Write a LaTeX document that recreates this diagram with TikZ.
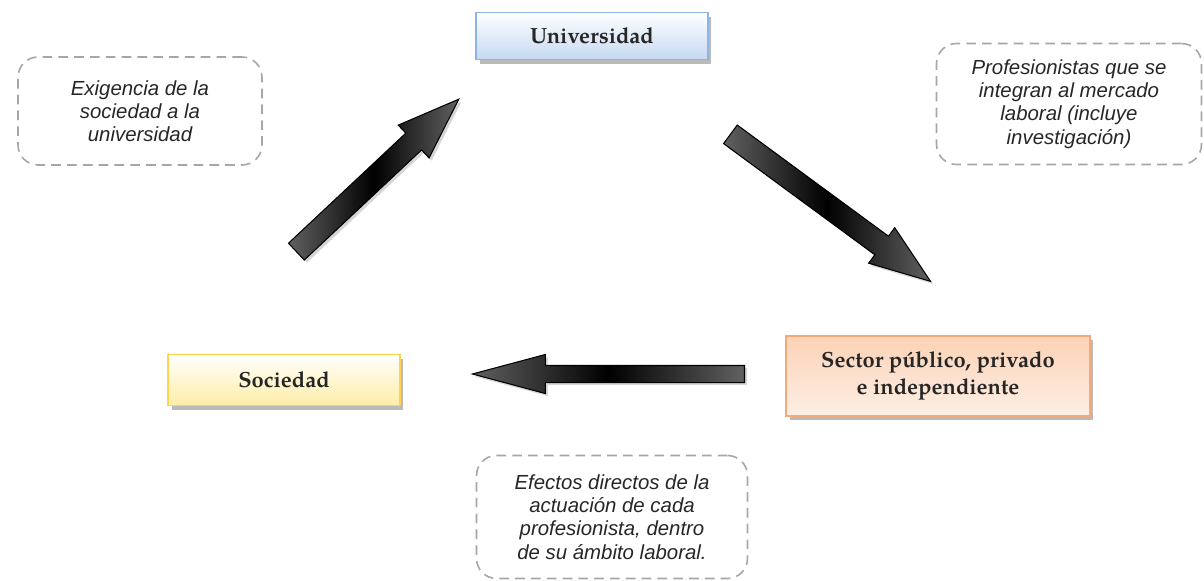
\documentclass[tikz,border=0pt]{standalone}
\usepackage{fontspec}
\setmainfont{Liberation Sans}
\newfontfamily\boxfont{TeX Gyre Pagella}
\usetikzlibrary{shapes.arrows,shadows,calc}

\definecolor{uniline}{HTML}{8EB4E3}
\definecolor{unifill}{HTML}{C5D9F1}
\definecolor{socline}{HTML}{FFD34D}
\definecolor{socfill}{HTML}{FFEDA6}
\definecolor{secline}{HTML}{F4A97A}
\definecolor{secfill}{HTML}{FBD2B6}
\definecolor{noteline}{HTML}{A6A6A6}

\tikzset{
  actor/.style={draw, line width=1pt, inner sep=2pt, align=center, text=black!85,
    font=\boxfont\bfseries\fontsize{12.5}{15.3}\selectfont,
    drop shadow={shadow xshift=2pt, shadow yshift=-2.5pt, fill=black!45, opacity=.6}},
  note/.style={draw=noteline, line width=0.9pt, dash pattern=on 5.5pt off 3.5pt,
    rounded corners=0.4cm, align=center, text=black!85,
    font=\itshape\fontsize{11.6}{13.2}\selectfont},
  bigarrow/.style={single arrow, draw=black, line width=0.6pt, inner xsep=0pt,
    single arrow head indent=0pt, left color=black!62, right color=black!62,
    middle color=black, sloped, allow upside down, anchor=tail,
    drop shadow={shadow xshift=1.5pt, shadow yshift=-1.5pt, fill=black!40, opacity=.4}}
}

\begin{document}
\begin{tikzpicture}[x=0.02cm, y=-0.02cm]
  \useasboundingbox (0,0) rectangle (1204,581);

  % actors
  \node[actor, draw=uniline, top color=white, bottom color=unifill,
        minimum width=4.64cm, minimum height=0.94cm] (uni) at (592,36) {Universidad};
  \node[actor, draw=socline, top color=white, bottom color=socfill,
        minimum width=4.64cm, minimum height=1.02cm] (soc) at (284,380) {Sociedad};
  \node[actor, draw=secline, top color=secfill, bottom color=secfill!35,
        minimum width=6.08cm, minimum height=1.6cm] (sec) at (938,376)
        {Sector público, privado\\e independiente};

  % notes
  \node[note, minimum width=4.88cm, minimum height=2.16cm] (exig) at (140,111)
        {Exigencia de la\\sociedad a la\\universidad};
  \node[note, minimum width=5.3cm, minimum height=2.42cm] (prof) at (1069,104)
        {Profesionistas que se\\integran al mercado\\laboral (incluye\\investigación)};
  \node[note, minimum width=5.42cm, minimum height=2.46cm] (efec) at (612,517)
        {Efectos directos de la\\actuación de cada\\profesionista, dentro\\de su ámbito laboral.};

  % arrows
  \coordinate (a1s) at (296,252);  \coordinate (a1e) at (459,99);
  \coordinate (a2s) at (730,134);  \coordinate (a2e) at (930,281);
  \coordinate (a3s) at (745,374);  \coordinate (a3e) at (473,374);

  \path let \p1=($(a1e)-(a1s)$), \n1={veclen(\x1,\y1)} in (a1s) -- (a1e)
    node[bigarrow, pos=0, minimum height=\n1, inner ysep=0.22cm,
         single arrow head extend=0.22cm, single arrow tip angle=40] (arr1) {};
  \path let \p1=($(a2e)-(a2s)$), \n1={veclen(\x1,\y1)} in (a2s) -- (a2e)
    node[bigarrow, pos=0, minimum height=\n1, inner ysep=0.22cm,
         single arrow head extend=0.21cm, single arrow tip angle=40] (arr2) {};
  \path let \p1=($(a3e)-(a3s)$), \n1={veclen(\x1,\y1)} in (a3s) -- (a3e)
    node[bigarrow, pos=0, minimum height=\n1, inner ysep=0.16cm,
         single arrow head extend=0.22cm, single arrow tip angle=30] (arr3) {};
\end{tikzpicture}
\end{document}
